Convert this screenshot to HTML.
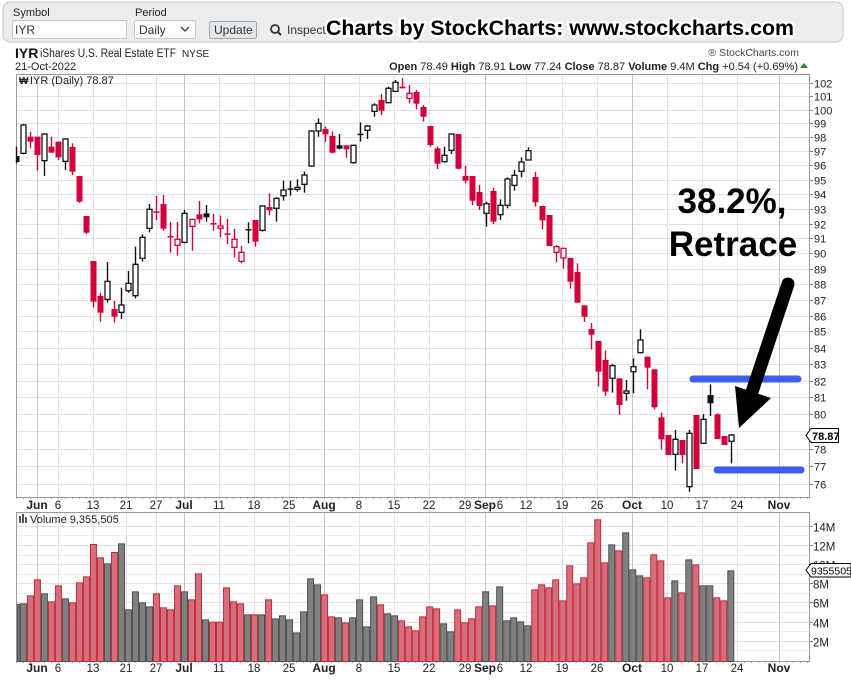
<!DOCTYPE html>
<html><head><meta charset="utf-8"><style>
html,body{margin:0;padding:0;background:#fff;width:851px;height:681px;overflow:hidden}
svg{display:block}
text{font-family:"Liberation Sans",Arial,sans-serif}
</style></head><body>
<svg id="s" width="851" height="681" xmlns="http://www.w3.org/2000/svg">
<rect x="3" y="2" width="840" height="40" rx="7" fill="#ededed" stroke="#c4c4c4"/>
<text x="13" y="16" font-size="11" fill="#222">Symbol</text>
<rect x="12.5" y="20.5" width="114" height="18" fill="#fff" stroke="#c8c8c8"/>
<text x="15" y="34" font-size="12" fill="#333">IYR</text>
<text x="135" y="16" font-size="11" fill="#222">Period</text>
<rect x="134.5" y="20.5" width="61" height="18" rx="2" fill="#fff" stroke="#c8c8c8"/>
<text x="139" y="34" font-size="12" fill="#333">Daily</text>
<path d="M181 27 l4 4 l4 -4" fill="none" stroke="#444" stroke-width="1.5"/>
<rect x="209.5" y="21.5" width="47" height="17" rx="2" fill="#e4e8ee" stroke="#9aa"/>
<text x="214" y="34" font-size="12" fill="#333">Update</text>
<circle cx="275" cy="29" r="4" fill="none" stroke="#333" stroke-width="1.8"/>
<line x1="278" y1="32" x2="281" y2="35" stroke="#333" stroke-width="2"/>
<text x="287" y="34" font-size="12" fill="#333">Inspect</text>
<text x="326" y="35" font-size="21.5" font-weight="bold" fill="#000" stroke="#fff" stroke-width="5" paint-order="stroke" stroke-linejoin="round" textLength="468" lengthAdjust="spacingAndGlyphs">Charts by StockCharts:  www.stockcharts.com</text>
<text x="15" y="58" font-size="14" font-weight="bold" fill="#111">IYR</text>
<text x="40" y="57" font-size="11.5" fill="#222" textLength="136" lengthAdjust="spacingAndGlyphs">iShares U.S. Real Estate ETF</text>
<text x="182" y="57" font-size="10" fill="#222">NYSE</text>
<text x="799" y="56" font-size="10.5" fill="#444" text-anchor="end">® StockCharts.com</text>
<text x="15" y="70" font-size="11" fill="#222">21-Oct-2022</text>
<text x="798" y="70" font-size="11" fill="#222" text-anchor="end"><tspan font-weight="bold">Open</tspan> 78.49  <tspan font-weight="bold">High</tspan> 78.91  <tspan font-weight="bold">Low</tspan> 77.24  <tspan font-weight="bold">Close</tspan> 78.87  <tspan font-weight="bold">Volume</tspan> 9.4M  <tspan font-weight="bold">Chg</tspan> +0.54 (+0.69%)</text>
<path d="M800 68 l4 -5 l4 5z" fill="#2a8a2a"/>
<g id="g"></g>
</svg>
<script>
var g=document.getElementById('g'),NS='http://www.w3.org/2000/svg';
function el(t,a,txt){var e=document.createElementNS(NS,t);for(var k in a)e.setAttribute(k,a[k]);if(txt!=null)e.textContent=txt;g.appendChild(e);return e;}
var L=16,R=809,PT=74,PB=497,VT=512,VB=661;
function py(p){return 82.7+1364.6*(Math.log(102)-Math.log(p));}
for(var p=76;p<=102;p++){var y=Math.round(py(p))+0.5;el('line',{x1:L,x2:R,y1:y,y2:y,stroke:'#e2e2e2'});el('line',{x1:R,x2:R+4,y1:y,y2:y,stroke:'#888'});el('text',{x:R+5,y:y+4,'font-size':11,fill:'#222'},p);}
function vy(m){return 659.9-m*9.58;}
for(var m=2;m<=14;m+=2){var y=Math.round(vy(m))+0.5;el('line',{x1:L,x2:R,y1:y,y2:y,stroke:'#e2e2e2'});el('line',{x1:L,x2:R,y1:Math.round(vy(m-1))+0.5,y2:Math.round(vy(m-1))+0.5,stroke:'#eee'});el('line',{x1:R,x2:R+4,y1:y,y2:y,stroke:'#888'});el('text',{x:R+4,y:y+5,'font-size':11.5,fill:'#222'},m+'M');}
var D=[[37,'Jun',1],[58,'6'],[93,'13'],[126,'21'],[156,'27'],[184,'Jul',1],[219,'11'],[254,'18'],[289,'25'],[324,'Aug',1],[359,'8'],[394,'15'],[429,'22'],[465,'29'],[485,'Sep',1],[526,'12'],[562,'19'],[597,'26'],[632,'Oct',1],[667,'10'],[702,'17'],[737,'24'],[779,'Nov',1]];
D.forEach(function(d){var x=d[0]+0.5,c=d[2]?'#c4c4c4':'#e2e2e2';el('line',{x1:x,x2:x,y1:PT,y2:PB,stroke:c});el('line',{x1:x,x2:x,y1:VT,y2:VB,stroke:c});
[509,672].forEach(function(ty){el('text',{x:d[0],y:ty,'font-size':d[2]?12:11.5,'font-weight':d[2]?'bold':'normal',fill:'#222','text-anchor':'middle'},d[1]);});});
el('text',{x:500,y:509,'font-size':11.5,fill:'#222','text-anchor':'middle'},'6');el('text',{x:500,y:672,'font-size':11.5,fill:'#222','text-anchor':'middle'},'6');
for(var x=L;x<R;x+=7){el('line',{x1:x+.5,x2:x+.5,y1:PB,y2:PB+2,stroke:'#aaa'});el('line',{x1:x+.5,x2:x+.5,y1:VB,y2:VB+2,stroke:'#aaa'});}
el('rect',{x:L+.5,y:PT+.5,width:R-L,height:PB-PT,fill:'none',stroke:'#999'});
el('rect',{x:L+.5,y:VT+.5,width:R-L,height:VB-VT,fill:'none',stroke:'#999'});
el('text',{x:30,y:84,'font-size':11,fill:'#222','font-family':'Liberation Mono, monospace'},'IYR (Daily) 78.87');
el('text',{x:19,y:84,'font-size':10,'font-weight':'bold',fill:'#222'},'₩');
el('text',{x:30,y:523,'font-size':11,fill:'#222','font-family':'Liberation Mono, monospace'},'Volume 9,355,505');
el('rect',{x:19,y:516,width:2,height:7,fill:'#555'});el('rect',{x:22,y:514,width:2,height:9,fill:'#555'});el('rect',{x:25,y:517,width:2,height:6,fill:'#555'});
var V1=[[372,'g'],[370,'g'],[346,'r'],[298,'r'],[340,'g'],[364,'r'],[316,'r'],[355,'g'],[367,'r'],[307,'r'],[289,'r'],[192,'r'],[232,'r'],[250,'g'],[216,'r'],[190,'g'],[388,'g'],[334,'g'],[367,'g'],[379,'g'],[340,'r'],[382,'r'],[388,'r'],[316,'r'],[334,'g'],[358,'r'],[280,'r'],[418,'g'],[425,'r'],[425,'r'],[322,'r'],[364,'r'],[370,'r'],[403,'g'],[403,'r'],[403,'g'],[358,'r'],[415,'g'],[406,'g'],[418,'g'],[457,'g'],[394,'g'],[295,'g'],[313,'g'],[343,'r'],[409,'r'],[412,'g'],[427,'r'],[412,'g'],[358,'g'],[439,'g'],[349,'g'],[373,'r'],[400,'g'],[406,'g'],[421,'r'],[439,'r'],[451,'r'],[409,'r']];
var V2='379r385r430g454g388r427r415r379r334g376r319g421g412g424g436g328r313r322r298r361r256r310r292r187r118r247r193g211r157g268g286g292r223r241r352r301g337r238g253r316g316g352r361r271g'.match(/\d+[rg]/g).map(function(s){return[+s.slice(0,-1),s.slice(-1)];});
var V=V1.concat(V2);
function cx(i){return 16.4+7.004*i;}
V.forEach(function(v,i){var x=cx(i)-3.5,y=480+v[0]/3,x0=Math.max(x,L+1),w=x+7-x0;
el('rect',{x:x0+.5,y:y+.5,width:w-1,height:VB-y,fill:v[1]=='r'?'#d4707c':'#808080',stroke:v[1]=='r'?'#c8283c':'#505050','stroke-width':1});});
var A=[['b',168,186,140,190],['h',75,160,72,163],['r',110,125,95,145],['r',110,165,110,212],['h',102,182,100,228],['r',140,158,110,158],['r',125,172,125,180],['h',117,184,115,210],['r',141,215,130,225],['r',228,305,228,308],['r',348,398,348,402],['r',483,605,483,623],['r',588,638,578,665],['h',544,598,486,608],['r',627,650,603,668],['h',615,637,563,657],['h',550,572,513,578],['h',493,587,440,595],['h',412,475,403,485],['h',328,385,312,397],['r',334,339,288,360],['r',312,386,285,392],['r',408,412,366,458],['rh',418,436,366,467],['h',340,427,330,430],['rh',358,379,358,452],['r',343,358,303,370],['b',340,352,315,365],['r',369,373,342,392],['rh',378,385,347,412],['r',400,403,357,432],['rh',418,442,387,472],['rh',457,484,438,490],['b',387,391,367,430],['r',360,425,360,440],['h',318,391,316,395],['r',321,331,280,346],['h',295,325,292,365],['h',270,287,242,302],['b',265,268,242,287],['h',262,268,238,275]];
var B=[['h',315,343,305,368],['h',183,288,181,290],['h',160,183,145,200],['r',177,193,170,215],['r',198,248,185,250],['b',226,236,192,238],['r',226,238,226,263],['h',226,278,224,281],['b',191,194,157,215],['h',168,181,165,207],['h',105,124,100,140],['r',90,122,72,135],['h',55,98,50,100],['h',37,64,30,66],['r',50,55,25,55],['rh',70,85,45,100],['r',66,101,60,118],['r',111,140,105,155],['r',168,225,168,230],['r',235,281,230,297],['h',256,275,230,278],['h',192,241,192,252],['r',192,296,192,298],['r',318,332,288,340],['r',318,392,318,405],['r',366,408,345,420],['h',401,430,395,470],['r',363,455,353,462],['h',406,434,388,450],['h',327,406,322,415],['h',316,346,300,362],['h',276,304,262,322]];
var C=[['h',32,60,22,60],['r',111,187,96,200],['r',198,241,198,268],['r',225,318,225,318],['rh',320,337,315,367],['rh',325,354,325,386],['r',354,425,354,446],['r',396,488,370,488],['r',496,530,496,546],['r',567,584,549,628],['r',603,695,603,740],['r',660,755,632,768],['h',677,715,672,758],['r',715,795,715,825],['h',753,760,720,782],['h',680,695,655,760],['h',600,638,568,640],['r',650,683,650,748],['r',688,802,688,808],['r',832,898,818,928],['r',885,945,885,945],['h',898,943,870,992],['r',900,945,900,970],['h',880,1040,870,1055],['r',825,987,825,987],['h',838,910,822,912],['b',765,790,733,828],['r',823,897,820,897],['r',888,915,888,915],['h',885,904,882,970]];
var all=[];A.forEach(function(c){all.push([c,100]);});B.forEach(function(c){all.push([c,70]);});C.forEach(function(c){all.push([c,140]);});
all.forEach(function(e,i){var c=e[0],o=e[1],x=Math.round(cx(i)),t=c[0];
var bt=o+c[1]/3,bb=o+c[2]/3,wt=o+c[3]/3,wb=o+c[4]/3;
var col=(t=='r'||t=='rh')?'#d2003a':'#111';
var hollow=(t=='h'||t=='rh');
el('line',{x1:x+.5,x2:x+.5,y1:wt,y2:wb,stroke:col,'stroke-width':1.4});
var h=Math.max(bb-bt,1.5);
if(hollow)el('rect',{x:x-2,y:bt,width:5,height:h,fill:'#fff',stroke:col,'stroke-width':1.3});
else{var x0=Math.max(x-2.5,L+1);el('rect',{x:x0,y:bt,width:x+3.5-x0,height:h,fill:col});}
});
el('path',{d:'M806 435.5 L811 428.5 H838.5 V442.5 H811 Z',fill:'#fff',stroke:'#000'});
el('text',{x:812,y:440,'font-size':11,'font-weight':'bold',fill:'#000'},'78.87');
el('path',{d:'M806 570 L811 563.5 H851 V577 H811 Z',fill:'#fff',stroke:'#000'});
el('text',{x:811,y:574.5,'font-size':10.5,fill:'#000'},'9355505');
el('line',{x1:693,x2:798,y1:379,y2:379,stroke:'#3e5ef0','stroke-width':7,'stroke-linecap':'round'});
el('line',{x1:717,x2:801,y1:470,y2:470,stroke:'#3e5ef0','stroke-width':7,'stroke-linecap':'round'});
el('line',{x1:788,x2:752,y1:284,y2:392,stroke:'#000','stroke-width':13,'stroke-linecap':'round'});
el('path',{d:'M735 386 L771 398 L739 428 Z',fill:'#000'});
el('text',{x:732,y:213,'font-size':35,'font-weight':'bold',fill:'#000','text-anchor':'middle'},'38.2%,');
el('text',{x:733,y:256,'font-size':35,'font-weight':'bold',fill:'#000','text-anchor':'middle'},'Retrace');
</script>
</body></html>
